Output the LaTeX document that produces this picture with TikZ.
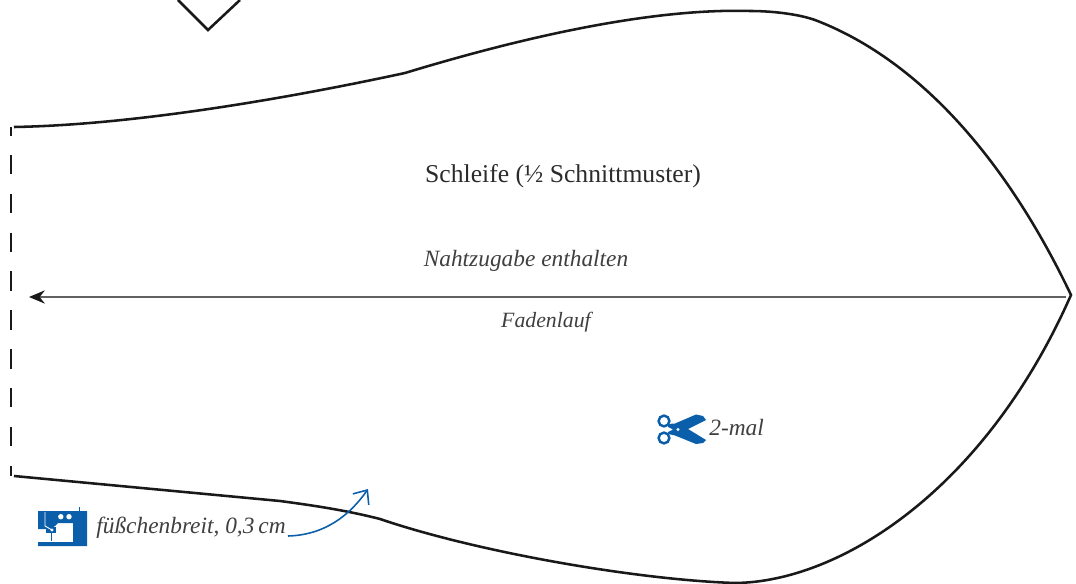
\documentclass[tikz,border=0pt]{standalone}
\usepackage{fontspec}
\setmainfont{Liberation Serif}
\usetikzlibrary{arrows.meta}
\definecolor{nahtblau}{HTML}{0B5FAA}
\definecolor{textgrau}{HTML}{2B2B2B}
\definecolor{hinweisgrau}{HTML}{3F3F3F}
\begin{document}
\begin{tikzpicture}[x=0.02cm,y=-0.02cm]
        \tikzstyle{every node}=[text=textgrau,inner sep=0pt]
        \tikzstyle{kontur}=[draw=black!90,line width=1.45pt]
        \tikzstyle{bruch}=[draw=black!90,line width=1.5pt,dash pattern=on 11.1pt off 11pt,dash phase=6.2pt]
        \tikzstyle{faden}=[draw=black!62,line width=1pt,-{Stealth[length=9pt,width=7.5pt,black!90]}]
        \tikzstyle{titel}=[font=\fontsize{14.6}{17}\selectfont]
        \tikzstyle{hinweis}=[text=hinweisgrau,font=\fontsize{13.3}{16}\selectfont\itshape]
        \tikzstyle{blauarrow}=[draw=nahtblau,line width=.9pt,-{Straight Barb[length=6.5pt,width=11pt]}]

        \useasboundingbox (0,0) rectangle (1076,584);

        % schnittkante
        \draw[kontur] (14,127) .. controls (130,125) and (280,100) .. (405,73)
            .. controls (520,38) and (650,8) .. (750,11)
            .. controls (772,11) and (798,14) .. (815,20)
            .. controls (925,62) and (1011,169) .. (1071,295)
            .. controls (985,490) and (840,582) .. (735,583)
            .. controls (640,580) and (480,553) .. (380,519)
            .. controls (345,510) and (310,505) .. (280,501) -- (14,476);
        \draw[bruch] (11,127) -- (11,476);                % stoffbruch
        \draw[kontur] (178,0) -- (208,30) -- (240,0);     % knipsmarke

        \node[titel] (titel) at (563,176) {Schleife (½ Schnittmuster)};
        \node[hinweis] (naht) at (526,261) {Nahtzugabe enthalten};
        \node[hinweis,font=\fontsize{12.4}{15}\selectfont\itshape] (lauf) at (546,322) {Fadenlauf};
        \node[hinweis,anchor=west] (mal) at (709,428) {2-mal};
        \node[hinweis,anchor=west] (fuss) at (96,528) {füßchenbreit, 0,3\,cm};

        \coordinate (fadenstart) at (1066,297);
        \coordinate (fadenziel) at (29,297);
        \draw[faden] (fadenstart) -- (fadenziel);
        \coordinate (bogenstart) at (288,536);
        \coordinate (bogenziel) at (368,489);
        \draw[blauarrow] (bogenstart) .. controls (325,535) and (350,515) .. (bogenziel);

        % schere
        \draw[nahtblau,line width=1.4pt] (664,421) circle (5.4);
        \draw[nahtblau,line width=1.4pt] (664,438) circle (5.4);
        \fill[nahtblau] (668,424) -- (675,423.5) -- (696,414.5) -- (703,416) -- (706,420) -- (688,429)
            -- (706,440) -- (703,443) -- (696,444) -- (675,435.5) -- (668,434) -- (668,432) -- (673,429.5) -- (668,427) -- cycle;
        \fill[white] (678,429.5) circle (1.6);

        % maschine
        \fill[nahtblau] (38,511) -- (87,511) -- (87,546) -- (38,546) -- (38,542)
            -- (73,542) -- (73,523) -- (58,523) -- (55,526) -- (50,529) -- (38,529) -- cycle;
        \fill[nahtblau] (46,527) rectangle (56,533);
        \fill[nahtblau] (78.7,507) rectangle (80.3,511);
        \fill[nahtblau] (50.8,533) rectangle (52.2,541);
        \fill[white] (60.8,516.7) circle (2.7);
        \fill[white] (69,516.7) circle (2.7);
        \draw[white,line width=.5pt] (45,512) -- (45,526) -- (52,530);
        \fill[white] (52,530) circle (1.6);
\end{tikzpicture}
\end{document}
